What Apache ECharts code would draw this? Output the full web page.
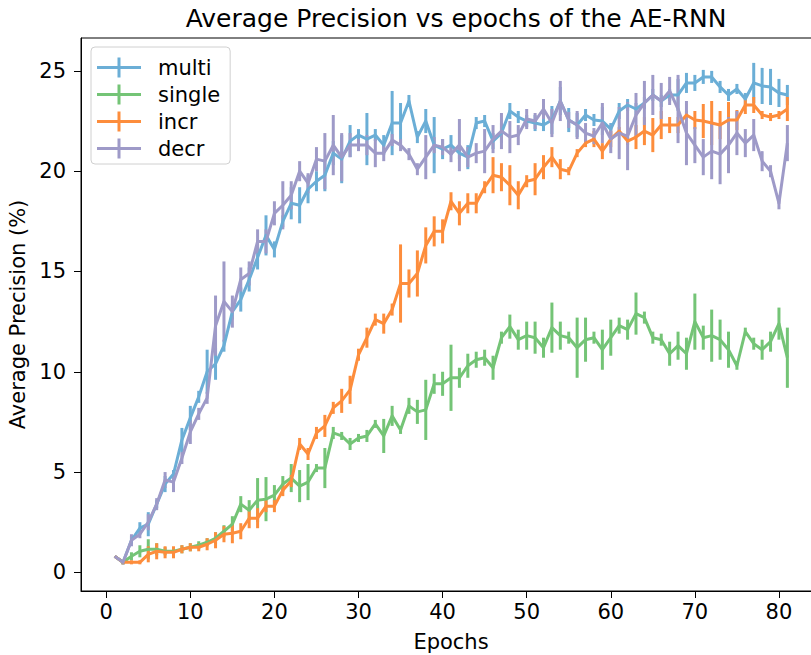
<!DOCTYPE html>
<html>
<head>
<meta charset="utf-8">
<script src="https://cdn.jsdelivr.net/npm/echarts@6/dist/echarts.min.js"></script>
<style>
  html, body { margin: 0; padding: 0; background: #fff; }
  #chart { width: 811px; height: 655px; }
</style>
</head>
<body>
<div id="chart"></div>
<script>
// epochs on the x axis
var epochs = [1,2,3,4,5,6,7,8,9,10,11,12,13,14,15,16,17,18,19,20,
  21,22,23,24,25,26,27,28,29,30,31,32,33,34,35,36,37,38,39,40,
  41,42,43,44,45,46,47,48,49,50,51,52,53,54,55,56,57,58,59,60,
  61,62,63,64,65,66,67,68,69,70,71,72,73,74,75,76,77,78,79,80,81];

var xTicks = [0, 10, 20, 30, 40, 50, 60, 70, 80];
var yTicks = [0, 5, 10, 15, 20, 25];

// mean average precision (%) per epoch
var multi = [0.8,0.5,1.6,2.2,2.4,3.4,4.4,4.9,6.6,7.7,
  8.75,10.0,10.4,11.3,13.0,13.6,14.6,15.7,16.8,16.1,
  17.5,18.4,18.3,19.1,19.5,19.8,20.9,20.6,21.5,21.8,
  21.6,21.8,21.3,22.4,22.4,23.5,21.7,22.5,21.3,21.1,
  21.3,20.9,20.7,22.4,22.5,21.5,21.9,23.0,22.7,22.5,
  22.4,22.3,22.55,23.5,22.55,22.3,22.8,22.55,22.5,22.1,
  23.0,23.3,23.1,23.4,23.8,23.5,23.8,23.8,24.4,24.4,
  24.7,24.7,24.2,23.8,24.1,23.6,24.4,24.25,24.2,23.9,23.8];
var single = [0.8,0.5,0.8,1.05,1.15,1.15,1.05,1.05,1.15,1.25,
  1.35,1.5,1.7,2.05,2.4,3.4,3.1,3.6,3.65,3.85,
  4.4,4.7,4.3,4.5,5.2,5.2,6.95,6.8,6.4,6.7,
  6.8,7.4,6.8,7.8,7.1,8.3,8.0,8.1,9.4,9.4,
  9.7,9.7,10.3,10.6,10.7,10.2,11.7,12.25,11.6,11.8,
  11.7,11.2,12.2,11.8,11.7,11.2,11.6,11.7,11.1,11.7,
  12.3,12.1,12.9,12.7,11.7,11.6,10.9,11.3,10.9,12.5,
  11.7,11.8,11.6,11.1,10.3,12.0,11.4,11.1,11.5,12.4,10.7];
var incr = [0.8,0.5,0.5,0.5,0.9,1.05,1.0,1.0,1.15,1.25,
  1.25,1.4,1.6,1.9,1.95,2.05,2.7,2.7,3.3,3.3,
  4.1,4.55,6.4,5.9,6.95,7.3,8.2,8.55,9.1,10.85,
  11.7,12.6,12.4,13.1,14.4,14.4,14.9,16.3,17.0,17.0,
  18.5,17.9,18.4,18.4,19.2,19.8,19.7,19.3,18.8,19.5,
  19.6,20.2,20.7,20.1,20.0,20.9,21.4,21.6,21.0,21.6,
  22.0,21.5,21.7,22.0,21.8,22.3,22.3,22.3,22.8,22.55,
  22.5,22.4,22.3,22.55,22.55,23.3,23.3,22.8,22.7,22.8,23.1];
var decr = [0.8,0.5,1.6,1.9,2.5,3.4,4.6,4.5,5.7,7.0,
  7.9,8.7,12.3,13.5,13.0,14.6,14.9,16.5,16.5,17.9,
  18.3,18.8,20.0,19.4,20.6,20.5,21.3,20.7,21.3,21.3,
  21.3,20.9,20.9,21.55,21.3,20.85,20.1,20.7,21.3,21.2,
  20.85,21.3,20.7,20.9,21.0,21.6,22.0,21.7,21.8,22.6,
  22.5,23.1,22.4,23.5,22.55,22.3,21.9,21.75,22.4,21.6,
  21.9,21.75,22.8,23.4,23.8,23.5,24.0,23.1,21.9,21.3,
  20.7,21.0,20.85,21.3,21.9,21.4,21.8,20.5,20.0,18.4,21.4];

// half-length of the error bars
var multiErr = [0,0.1,0.2,0.3,0.6,0.2,0.4,0.2,0.6,0.6,
  0.3,1.1,0.8,0.3,0.4,0.6,0.6,0.6,1.0,0.4,
  0.3,0.8,0.9,0.7,0.5,0.8,0.6,1.2,0.8,0.3,
  1.3,0.3,0.5,1.6,1.0,0.3,0.3,0.6,1.4,0.5,
  0.5,0.3,0.6,0.3,0.3,0.4,0.5,0.4,0.3,0.3,
  0.4,0.3,0.7,0.7,0.6,0.6,0.3,0.3,0.7,0.3,
  0.4,0.3,0.3,0.3,0.3,0.3,0.3,0.8,0.5,0.4,
  0.35,0.3,0.3,0.3,0.25,0.3,1.0,0.9,0.9,0.7,0.5];
var singleErr = [0,0.1,0.2,0.3,0.5,0.3,0.2,0.1,0.2,0.2,
  0.2,0.2,0.3,0.3,0.4,0.4,0.5,1.1,1.1,0.5,
  0.4,0.7,0.8,0.9,0.2,1.0,0.3,0.2,0.3,0.2,
  0.3,0.2,0.85,0.5,0.2,0.4,0.6,1.5,0.5,0.6,
  1.65,0.5,0.6,0.4,0.4,0.6,0.3,0.6,0.5,0.7,
  0.8,0.5,1.25,0.7,0.3,1.5,1.1,0.3,1.0,0.9,
  0.4,0.5,1.05,0.3,0.3,0.3,0.6,0.7,0.8,1.4,
  0.6,1.3,1.0,0.9,0.2,0.2,0.3,0.5,0.5,0.8,1.5];
var incrErr = [0,0.1,0.1,0.1,0.4,0.4,0.3,0.3,0.2,0.2,
  0.2,0.3,0.4,0.4,0.5,0.4,0.5,0.5,0.3,0.3,
  0.3,0.3,0.3,0.3,0.3,0.55,0.3,0.6,0.7,0.3,
  0.5,0.3,0.5,0.3,1.95,0.7,1.15,0.9,0.75,0.6,
  0.45,0.6,0.5,0.5,0.3,0.9,0.7,1.0,0.7,0.3,
  0.8,0.6,0.5,0.5,0.2,0.2,0.2,0.4,0.4,0.4,
  0.2,0.2,0.6,0.7,0.85,0.7,0.4,0.4,0.2,0.45,
  0.85,1.1,0.7,0.9,0.5,0.45,0.4,0.2,0.2,0.2,0.6];
var decrErr = [0,0.1,0.3,0.2,0.4,0.3,0.4,0.5,0.3,0.6,
  0.3,0.3,1.5,2.0,0.8,0.6,0.6,0.6,0.6,0.6,
  1.2,0.7,0.5,0.5,0.6,1.4,1.5,1.2,0.6,0.3,
  0.5,0.7,0.4,0.3,0.3,0.3,0.3,1.1,0.4,0.4,
  0.4,1.3,0.5,0.5,1.1,0.7,0.9,0.8,0.5,0.5,
  0.4,0.5,0.7,1.0,0.4,0.7,0.5,0.4,1.0,0.7,
  1.3,1.7,1.1,1.1,1.0,0.9,0.7,1.7,1.6,0.9,
  0.9,1.4,1.5,1.4,1.1,0.7,0.8,0.5,0.3,0.3,0.9];

var names = ['multi', 'single', 'incr', 'decr'];
var colors = ['#6baed6', '#74c476', '#fd8d3c', '#9e9ac8'];
var means = [multi, single, incr, decr];
var errs = [multiErr, singleErr, incrErr, decrErr];

var FONT = 'DejaVu Sans';
var LW = 3;
// plus-shaped legend key, like matplotlib's errorbar handle
var plusIcon = 'path://M0,8.5 H44 V11.5 H0 Z M20.5,0 H23.5 V20 H20.5 Z';

function errRender(params, api) {
  var x = api.value(0);
  var lo = api.coord([x, api.value(1)]);
  var hi = api.coord([x, api.value(2)]);
  return {
    type: 'line',
    shape: { x1: lo[0], y1: lo[1], x2: hi[0], y2: hi[1] },
    style: { stroke: api.visual('color'), lineWidth: LW }
  };
}

var series = [];
names.forEach(function (name, k) {
  var m = means[k], e = errs[k];
  series.push({
    name: name,
    type: 'custom',
    renderItem: errRender,
    itemStyle: { color: colors[k] },
    data: epochs.map(function (ep, i) { return [ep, m[i] - e[i], m[i] + e[i]]; }),
    encode: { x: 0, y: [1, 2] },
    clip: false,
    silent: true
  });
  series.push({
    name: name,
    type: 'line',
    showSymbol: false,
    symbol: 'none',
    color: colors[k],
    lineStyle: { color: colors[k], width: LW, join: 'round' },
    data: epochs.map(function (ep, i) { return [ep, m[i]]; }),
    silent: true
  });
});

var chart = echarts.init(document.getElementById('chart'), null, { renderer: 'svg' });
chart.setOption({
  animation: false,
  backgroundColor: '#fff',
  title: {
    text: 'Average Precision vs epochs of the AE-RNN',
    left: 451,
    top: 1,
    textAlign: 'center',
    textStyle: { fontFamily: FONT, fontSize: 25, fontWeight: 'normal', color: '#000' }
  },
  legend: {
    orient: 'vertical',
    left: 91,
    top: 47,
    padding: [10, 10, 5, 6],
    itemGap: 6,
    itemWidth: 44,
    itemHeight: 22,
    backgroundColor: 'rgba(255,255,255,0.8)',
    borderColor: '#d0d0d0',
    borderWidth: 1,
    borderRadius: 4,
    textStyle: { fontFamily: FONT, fontSize: 21, color: '#000', padding: [0, 0, 0, 12] },
    data: names.map(function (n) { return { name: n, icon: plusIcon }; })
  },
  grid: {
    left: 81, top: 38, width: 740, height: 553,
    outerBoundsMode: 'none',
    containLabel: false,
    show: true, borderColor: '#000', borderWidth: 1, backgroundColor: 'transparent'
  },
  xAxis: {
    type: 'value',
    min: -3, max: 85,
    name: 'Epochs',
    nameLocation: 'middle',
    nameGap: 40,
    nameTextStyle: { fontFamily: FONT, fontSize: 21, color: '#000' },
    axisLine: { onZero: false, lineStyle: { color: '#000', width: 1 } },
    axisTick: { show: true, length: 7, lineStyle: { color: '#000' }, customValues: xTicks },
    axisLabel: { fontFamily: FONT, fontSize: 21, color: '#000', margin: 10, customValues: xTicks },
    splitLine: { show: false }
  },
  yAxis: {
    type: 'value',
    min: -0.93, max: 26.64,
    name: 'Average Precision (%)',
    nameLocation: 'middle',
    nameGap: 50,
    nameTextStyle: { fontFamily: FONT, fontSize: 21, color: '#000' },
    axisLine: { show: true, onZero: false, lineStyle: { color: '#000', width: 1 } },
    axisTick: { show: true, length: 7, lineStyle: { color: '#000' }, customValues: yTicks },
    axisLabel: { fontFamily: FONT, fontSize: 21, color: '#000', margin: 15, customValues: yTicks },
    splitLine: { show: false }
  },
  series: series
});
</script>
</body>
</html>
